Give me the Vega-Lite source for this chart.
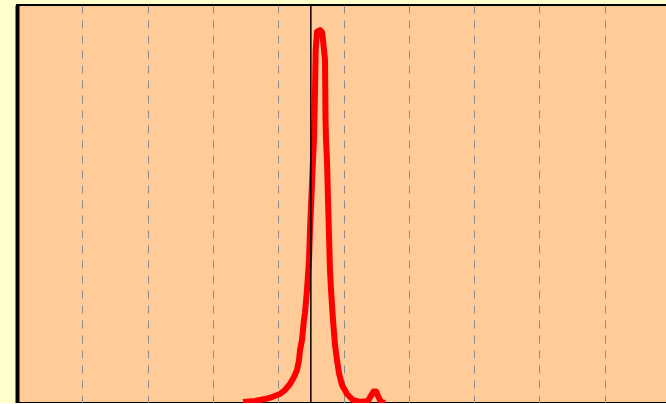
{
  "$schema": "https://vega.github.io/schema/vega-lite/v6.json",
  "width": 653,
  "height": 398,
  "autosize": {"type": "none"},
  "padding": {"left": 17, "top": 5, "right": 0, "bottom": 0},
  "background": "#FFFFCC",
  "config": {
    "view": {"fill": "#FFCC99", "stroke": "#000000", "strokeWidth": 2}
  },
  "layer": [
    {
      "data": {"values": [
        {"x": 3.461, "y": 0.25}, {"x": 3.645, "y": 0.5}, {"x": 3.798, "y": 1.0}, {"x": 3.905, "y": 1.5},
        {"x": 4.028, "y": 2.26}, {"x": 4.104, "y": 3.27}, {"x": 4.181, "y": 4.77}, {"x": 4.242, "y": 6.53},
        {"x": 4.288, "y": 8.29}, {"x": 4.319, "y": 10.8}, {"x": 4.334, "y": 13.3}, {"x": 4.364, "y": 15.8},
        {"x": 4.395, "y": 20.85}, {"x": 4.41, "y": 22.6}, {"x": 4.441, "y": 28.4}, {"x": 4.472, "y": 35.9},
        {"x": 4.487, "y": 43.5}, {"x": 4.502, "y": 49.2}, {"x": 4.533, "y": 61.1}, {"x": 4.548, "y": 66.1},
        {"x": 4.564, "y": 78.6}, {"x": 4.574, "y": 88.7}, {"x": 4.594, "y": 93.3}, {"x": 4.64, "y": 93.7},
        {"x": 4.671, "y": 93.2}, {"x": 4.686, "y": 91.2}, {"x": 4.717, "y": 86.2}, {"x": 4.725, "y": 71.1},
        {"x": 4.732, "y": 66.1}, {"x": 4.747, "y": 61.1}, {"x": 4.763, "y": 51.0}, {"x": 4.778, "y": 42.2},
        {"x": 4.793, "y": 33.4}, {"x": 4.809, "y": 28.4}, {"x": 4.839, "y": 20.85}, {"x": 4.87, "y": 14.6},
        {"x": 4.9, "y": 10.8}, {"x": 4.931, "y": 7.5}, {"x": 4.977, "y": 4.5}, {"x": 5.054, "y": 2.26},
        {"x": 5.145, "y": 0.75}, {"x": 5.253, "y": 0.25}, {"x": 5.375, "y": 0.5}, {"x": 5.421, "y": 1.8},
        {"x": 5.46, "y": 2.9}, {"x": 5.5, "y": 2.9}, {"x": 5.528, "y": 1.76}, {"x": 5.574, "y": 0.25}, {"x": 5.636, "y": 0}
      ]},
      "mark": {"type": "line", "color": "#FF0000", "strokeWidth": 6, "strokeJoin": "round", "clip": true},
      "encoding": {
        "x": {"field": "x", "type": "quantitative",
          "scale": {"domain": [0, 10], "nice": false, "zero": false},
          "axis": {"title": null, "labels": false, "ticks": false, "domain": false,
            "grid": true, "gridColor": "#8c8c8c", "gridDash": [8, 7], "gridWidth": 1, "gridOpacity": 1,
            "values": [1, 2, 3, 4, 5, 6, 7, 8, 9]}},
        "y": {"field": "y", "type": "quantitative",
          "scale": {"domain": [0, 100], "nice": false},
          "axis": {"title": null, "labels": false, "ticks": false, "grid": false,
            "domain": true, "domainColor": "#000000", "domainWidth": 4}}
      }
    },
    {
      "data": {"values": [{"x": 4.5}]},
      "mark": {"type": "rule", "color": "#000000", "strokeWidth": 1.5},
      "encoding": {"x": {"field": "x", "type": "quantitative"}}
    }
  ]
}
